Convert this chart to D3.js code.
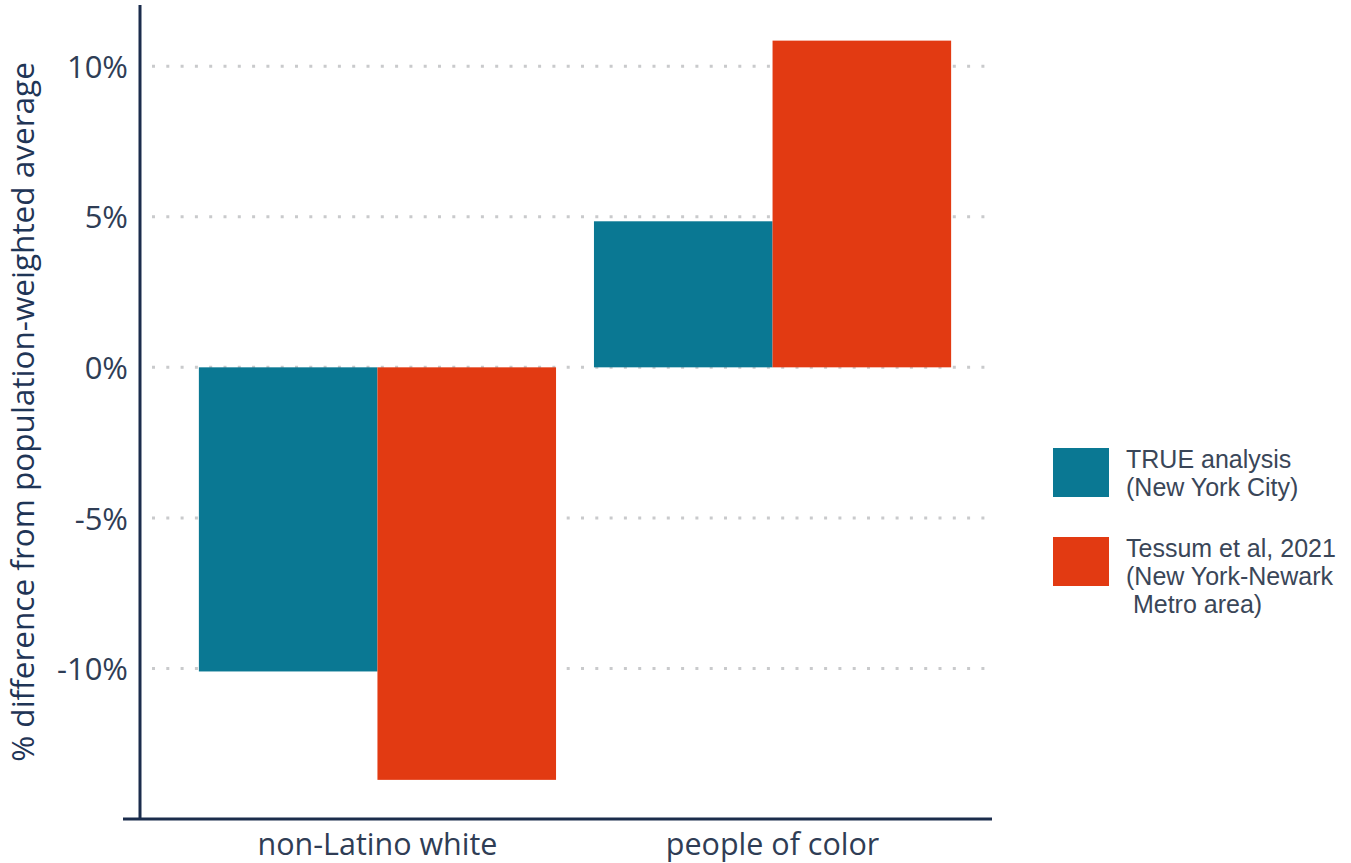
<!DOCTYPE html>
<html><head><meta charset="utf-8">
<script src="https://cdn.jsdelivr.net/npm/d3@7"></script>
<style>body{margin:0;background:#fff;} svg{display:block;}</style>
</head><body>
<svg id="c" width="1351" height="863"></svg>
<script>
const categories = ["non-Latino white", "people of color"];
const seriesNames = ["TRUE analysis", "Tessum et al, 2021"];
const legendLines = [["TRUE analysis", "(New York City)"], ["Tessum et al, 2021", "(New York-Newark", " Metro area)"]];
const trueValues = [-10.1, 4.85];
const tessumValues = [-13.7, 10.85];
const tickValues = [-10, -5, 0, 5, 10];
const tickLabels = ["-10%", "-5%", "0%", "5%", "10%"];
const colors = ["#0a7893", "#e23a12"];

const svg = d3.select("#c");
const y = d3.scaleLinear().domain([-15, 12]).range([819, 6]);
const x0 = d3.scaleBand().domain(categories).range([140, 1010]).paddingInner(0.096).paddingOuter(0.149);
const x1 = d3.scaleBand().domain(seriesNames).range([0, x0.bandwidth()]);
const axisColor = "#1b2c4c";
const textColor = "#2f3d55";
const font = "Open Sans, sans-serif";

// gridlines
svg.append("g").selectAll("line").data(tickValues).join("line")
  .attr("x1", 152).attr("x2", 992)
  .attr("y1", d => y(d)).attr("y2", d => y(d))
  .attr("stroke", "#c9cacc").attr("stroke-width", 3)
  .attr("stroke-dasharray", "3 11.3").attr("stroke-linecap", "butt");

// bars
const data = categories.map((c, i) => ({c, vals: [trueValues[i], tessumValues[i]]}));
const g = svg.append("g").selectAll("g").data(data).join("g")
  .attr("transform", d => `translate(${x0(d.c)},0)`);
g.selectAll("rect").data(d => d.vals.map((v, j) => ({v, s: seriesNames[j], j}))).join("rect")
  .attr("x", d => x1(d.s)).attr("width", x1.bandwidth())
  .attr("y", d => y(Math.max(0, d.v))).attr("height", d => Math.abs(y(d.v) - y(0)))
  .attr("fill", d => colors[d.j]);

// y axis
const yAxis = d3.axisLeft(y).tickValues(tickValues).tickFormat((d, i) => tickLabels[i]).tickSize(0).tickPadding(12);
const ya = svg.append("g").attr("transform", "translate(140,0)").call(yAxis);
ya.select(".domain").remove();
ya.selectAll("text").attr("font-family", font).attr("font-size", 31).attr("fill", textColor).attr("dy", "0.36em");
svg.append("line").attr("x1", 140).attr("x2", 140).attr("y1", 5).attr("y2", 819).attr("stroke", axisColor).attr("stroke-width", 3);

// x axis
const xAxis = d3.axisBottom(x0).tickSize(0).tickPadding(14);
const xa = svg.append("g").attr("transform", "translate(0,819)").call(xAxis);
xa.select(".domain").remove();
xa.selectAll("text").attr("font-family", font).attr("font-size", 30.5).attr("fill", textColor);
svg.append("line").attr("x1", 123).attr("x2", 992).attr("y1", 819).attr("y2", 819).attr("stroke", axisColor).attr("stroke-width", 3);

// y title
svg.append("text").attr("transform", "translate(34,412) rotate(-90)")
  .attr("text-anchor", "middle").attr("font-family", font).attr("font-size", 31.5)
  .attr("fill", "#1f3556").text("% difference from population-weighted average");

// legend
const leg = svg.append("g").selectAll("g").data(legendLines).join("g")
  .attr("transform", (d, i) => `translate(1053,${[448, 537][i]})`);
leg.append("rect").attr("width", 56).attr("height", 49).attr("fill", (d, i) => colors[i]);
leg.each(function(lines) {
  d3.select(this).selectAll("text.l").data(lines).join("text").attr("class", "l")
    .attr("x", 73).attr("y", (l, k) => 19.5 + k * 28.3)
    .attr("font-family", "Liberation Sans, Arial, sans-serif").attr("font-size", 25).attr("fill", "#3a4658")
    .attr("xml:space", "preserve").text(l => l);
});
</script>
</body></html>
